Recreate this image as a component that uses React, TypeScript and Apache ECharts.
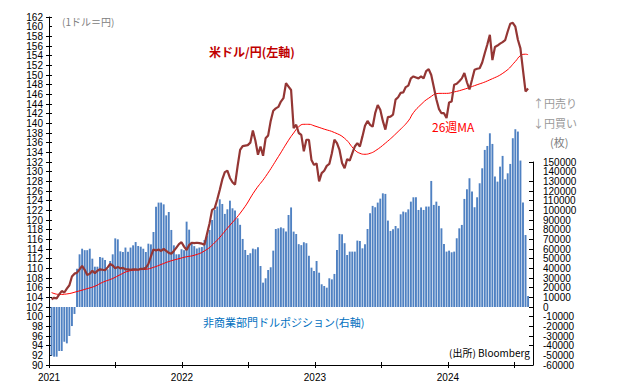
import React, { useEffect, useRef } from "react";
import * as echarts from "echarts";

// Non-commercial USD/JPY net position (contracts), weekly from 2021-01-08
const positions = [
  -50300, -51400, -51400, -45500, -45500, -35900, -37600, -30000, -19700, -7200,
  39600, 54500, 60300, 58800, 58800, 60300, 50000, 41700, 41700, 51700,
  51000, 48600, 39000, 47600, 54500, 71000, 70000, 57600, 56900, 61500,
  57200, 61500, 63800, 67200, 63100, 62400, 60300, 56900, 65500, 64800,
  77600, 103800, 108000, 108000, 106200, 94800, 98300, 79700, 63800, 54500,
  54500, 59800, 58800, 88300, 80000, 66000, 63000, 60500, 61500, 62000,
  69300, 74000, 79700, 90000, 100400, 103900, 111400, 106600, 96300, 101100,
  110000, 102100, 99700, 91800, 85000, 70400, 59000, 53800, 55600, 60400,
  59700, 61800, 42400, 25200, 29700, 38300, 41100, 58300, 80700, 81400,
  82400, 81400, 78000, 95200, 103000, 78000, 75500, 65000, 64000, 67000,
  66000, 53000, 40700, 37300, 47600, 35500, 23500, 21700, 20000, 29700,
  28600, 34200, 59000, 75600, 75200, 66000, 53800, 57300, 57300, 57300,
  68700, 68300, 60700, 64900, 80700, 97000, 104600, 103200, 108000, 112100,
  117600, 117000, 89400, 78700, 80400, 83800, 81400, 95900, 98700, 98000,
  101000, 109000, 113500, 113500, 100400, 103000, 100400, 103900, 103900, 130400,
  105600, 109000, 104600, 81400, 65200, 57300, 58300, 56600, 57300, 71100,
  81400, 84900, 111800, 121800, 133200, 119400, 103200, 113500, 128000, 143500,
  162500, 166600, 179700, 168700, 134900, 129700, 145200, 156300, 132100, 138300,
  148000, 174600, 183900, 181500, 151500, 108000, 74500, 11400,
];

// USD/JPY weekly (left axis)
const usdjpy = [
  103.6, 103.9, 103.8, 104.6, 105.3, 105.0, 105.8, 106.5, 108.3, 108.9,
  109.1, 109.8, 110.5, 109.7, 108.6, 108.9, 109.5, 109.0, 109.5, 109.8,
  109.7, 109.6, 110.2, 110.9, 110.6, 110.0, 110.3, 110.0, 110.1, 109.8,
  109.8, 109.7, 109.8, 109.8, 109.7, 109.9, 109.9, 110.1, 110.9, 112.5,
  113.9, 113.7, 113.9, 113.6, 114.0, 113.6, 113.2, 113.0, 113.6, 114.3,
  115.0, 115.4, 114.5, 113.8, 114.8, 115.3, 115.2, 115.3, 115.2, 115.1,
  114.9, 117.1, 119.3, 122.1, 122.4, 124.2, 126.2, 128.4, 129.9, 130.2,
  128.7, 127.8, 127.3, 131.1, 134.5, 135.3, 135.4, 135.5, 136.0, 138.5,
  136.4, 133.5, 135.2, 133.3, 136.9, 137.5, 140.5, 142.6, 143.1, 143.4,
  144.5, 145.2, 148.3, 147.6, 146.9, 139.0, 139.7, 138.0, 137.6, 134.2,
  136.6, 136.6, 132.4, 131.4, 131.7, 128.0, 129.7, 130.2, 131.2, 131.6,
  133.8, 136.6, 135.9, 134.5, 131.8, 130.7, 132.6, 132.3, 133.8, 135.2,
  135.9, 135.2, 137.3, 139.5, 140.5, 139.7, 139.3, 142.1, 143.8, 142.8,
  140.5, 138.7, 141.3, 141.4, 141.8, 144.9, 145.4, 146.3, 146.4, 147.5,
  147.8, 149.3, 149.7, 149.5, 149.3, 149.7, 149.3, 150.8, 151.2, 150.0,
  147.5, 145.0, 143.0, 142.1, 142.1, 141.1, 144.3, 144.5, 148.0, 148.2,
  148.7, 149.3, 150.4, 148.5, 147.0, 149.0, 151.1, 151.3, 151.4, 152.6,
  154.5, 156.3, 158.3, 153.1, 155.8, 156.1, 156.5, 156.8, 157.2, 159.0,
  160.6, 160.8, 160.0, 157.3, 155.5, 151.0, 146.6, 147.2,
];

// 26-week moving average, read at selected weeks
const maWeeks = [
  0, 3, 6, 10, 14, 17, 20, 24, 27, 30, 34, 37, 40, 43, 46, 50, 53, 56, 60, 64,
  69, 75, 80, 84, 89, 93, 95, 97, 99, 101, 103, 107, 111, 115, 119, 121, 123, 125, 127, 131,
  136, 140, 142, 145, 148, 152, 155, 158, 161, 166, 172, 178, 182, 184, 186, 187,
];
const maValues = [
  105.0, 104.6, 104.7, 105.2, 105.8, 106.3, 107.1, 107.9, 108.7, 109.4, 109.7, 109.8, 110.2, 110.8, 111.4, 112.0, 112.4, 112.7, 113.6, 115.3,
  118.3, 122.1, 126.2, 129.0, 133.1, 136.5, 138.0, 139.3, 139.8, 139.8, 139.5, 138.8, 138.1, 136.9, 134.5, 133.8, 133.6, 133.8, 134.3, 135.9,
  138.3, 140.5, 142.2, 143.9, 145.2, 146.2, 146.2, 146.5, 146.9, 147.8, 149.0, 150.7, 152.8, 154.0, 154.3, 154.2,
];

const yearLabels = [2021, 2022, 2023, 2024];
// labels next to the axis ends, drawn by a twin axis so that neither end label hides them
const leftNearEnd = [92, 160];
const rightNearEnd = [-50000, 140000];

const FONT = '"Liberation Sans", "Noto Sans CJK JP", sans-serif';
const JFONT = '"Noto Sans CJK JP", "Liberation Sans", sans-serif';

// week index -> fractional year (first week ends 2021-01-08)
function weekX(i: number): number {
  return 2021 + (7 + 7 * i) / 365.25;
}

export default function App() {
  const ref = useRef<HTMLDivElement>(null);
  useEffect(() => {
    document.body.style.margin = "0";
    const chart = echarts.init(ref.current!, null, { renderer: "svg" });
    const xMin = 2021;
    const xMax = 2024.64;
    const gridTop = 17;
    const gridBottom = 24;
    const plotH = 389 - gridTop - gridBottom;
    const rightTop = gridTop + (plotH * 30) / 72;

    const yLabel = {
      color: "#000",
      fontSize: 10,
      fontFamily: FONT,
      showMinLabel: true,
      showMaxLabel: true,
    };
    const onlyOf = (list: number[]) => (v: number) => (list.includes(v) ? String(v) : "");

    const option: any = {
      animation: false,
      backgroundColor: "#ffffff",
      textStyle: { fontFamily: FONT },
      grid: [
        { left: 49, right: 85, top: gridTop, bottom: gridBottom },
        { left: 49, right: 85, top: rightTop, bottom: gridBottom },
      ],
      xAxis: [
        {
          type: "value",
          gridIndex: 0,
          min: xMin,
          max: xMax,
          interval: 0.5,
          position: "bottom",
          axisLine: { show: true, onZero: false, lineStyle: { color: "#000", width: 1 } },
          axisTick: { show: true, length: 3, lineStyle: { color: "#000" } },
          axisLabel: {
            show: true,
            color: "#000",
            fontSize: 10,
            fontFamily: FONT,
            margin: 7,
            showMaxLabel: false,
            formatter: (v: number) => {
              const r = Math.round(v);
              return Math.abs(v - r) < 1e-6 && yearLabels.includes(r) ? String(r) : "";
            },
          },
          splitLine: { show: false },
        },
        {
          type: "value",
          gridIndex: 0,
          min: xMin,
          max: xMax,
          interval: 0.5,
          position: "bottom",
          axisLine: { show: false, onZero: false },
          axisTick: { show: true, inside: true, length: 3, lineStyle: { color: "#000" } },
          axisLabel: { show: false },
          splitLine: { show: false },
        },
        {
          type: "value",
          gridIndex: 1,
          min: 0,
          max: 1,
          show: false,
        },
      ],
      yAxis: [
        {
          type: "value",
          gridIndex: 0,
          position: "left",
          min: 90,
          max: 162,
          interval: 2,
          axisLine: { show: true, onZero: false, lineStyle: { color: "#000", width: 1 } },
          axisTick: { show: true, length: 3, lineStyle: { color: "#000" } },
          axisLabel: { ...yLabel, margin: 6, formatter: (v: number) => String(v) },
          splitLine: { show: false },
        },
        {
          type: "value",
          gridIndex: 0,
          position: "right",
          min: -60000,
          max: 300000,
          show: false,
          splitLine: { show: false },
        },
        {
          type: "value",
          gridIndex: 0,
          position: "left",
          min: 90,
          max: 162,
          interval: 2,
          axisLine: { show: false },
          axisTick: { show: true, inside: true, length: 3, lineStyle: { color: "#000" } },
          axisLabel: { ...yLabel, margin: 6, formatter: onlyOf(leftNearEnd) },
          splitLine: { show: false },
        },
        {
          type: "value",
          gridIndex: 1,
          position: "right",
          min: -60000,
          max: 150000,
          interval: 10000,
          axisLine: { show: true, onZero: false, lineStyle: { color: "#000", width: 1 } },
          axisTick: { show: true, inside: true, length: 4, lineStyle: { color: "#000" } },
          axisLabel: { ...yLabel, margin: 10, formatter: (v: number) => String(v) },
          splitLine: { show: false },
        },
        {
          type: "value",
          gridIndex: 1,
          position: "right",
          min: -60000,
          max: 150000,
          interval: 10000,
          axisLine: { show: false },
          axisTick: { show: false },
          axisLabel: { ...yLabel, margin: 10, formatter: onlyOf(rightNearEnd) },
          splitLine: { show: false },
        },
      ],
      series: [
        {
          name: "非商業部門ドルポジション",
          type: "bar",
          xAxisIndex: 0,
          yAxisIndex: 1,
          barWidth: 1.9,
          itemStyle: { color: "#4F81C2" },
          data: positions.map((v, i) => [weekX(i), v]),
        },
        {
          name: "26週MA",
          type: "line",
          xAxisIndex: 0,
          yAxisIndex: 0,
          smooth: true,
          showSymbol: false,
          symbol: "none",
          lineStyle: { color: "#FF0000", width: 1 },
          data: maWeeks.map((w, k) => [weekX(w), maValues[k]]),
          z: 3,
        },
        {
          name: "米ドル/円",
          type: "line",
          xAxisIndex: 0,
          yAxisIndex: 0,
          showSymbol: false,
          symbol: "none",
          lineStyle: { color: "#943634", width: 2.2 },
          data: usdjpy.map((v, i) => [weekX(i), v]),
          z: 4,
        },
        {
          type: "line",
          xAxisIndex: 2,
          yAxisIndex: 3,
          data: [],
          silent: true,
        },
      ],
      graphic: [
        { type: "text", left: 62, top: 16, style: { text: "(1ドル＝円)", fill: "#808080", fontSize: 10, fontFamily: JFONT } },
        { type: "text", left: 209, top: 45, style: { text: "米ドル/円(左軸)", fill: "#C00000", fontSize: 12, fontWeight: "bold", fontFamily: JFONT } },
        { type: "text", left: 432, top: 120, style: { text: "26週MA", fill: "#FF0000", fontSize: 12, fontFamily: JFONT } },
        { type: "text", left: 533, top: 97, style: { text: "↑円売り", fill: "#999999", fontSize: 11, fontFamily: JFONT } },
        { type: "text", left: 533, top: 117, style: { text: "↓円買い", fill: "#999999", fontSize: 11, fontFamily: JFONT } },
        { type: "text", left: 550, top: 136, style: { text: "(枚)", fill: "#808080", fontSize: 11, fontFamily: JFONT } },
        { type: "text", left: 203, top: 316, style: { text: "非商業部門ドルポジション(右軸)", fill: "#0070C0", fontSize: 11, fontFamily: JFONT } },
        { type: "text", left: 449, top: 347, style: { text: "(出所) Bloomberg", fill: "#000000", fontSize: 10, fontFamily: JFONT } },
      ],
    };
    chart.setOption(option);
    return () => chart.dispose();
  }, []);
  return <div ref={ref} style={{ width: 618, height: 389 }} />;
}
